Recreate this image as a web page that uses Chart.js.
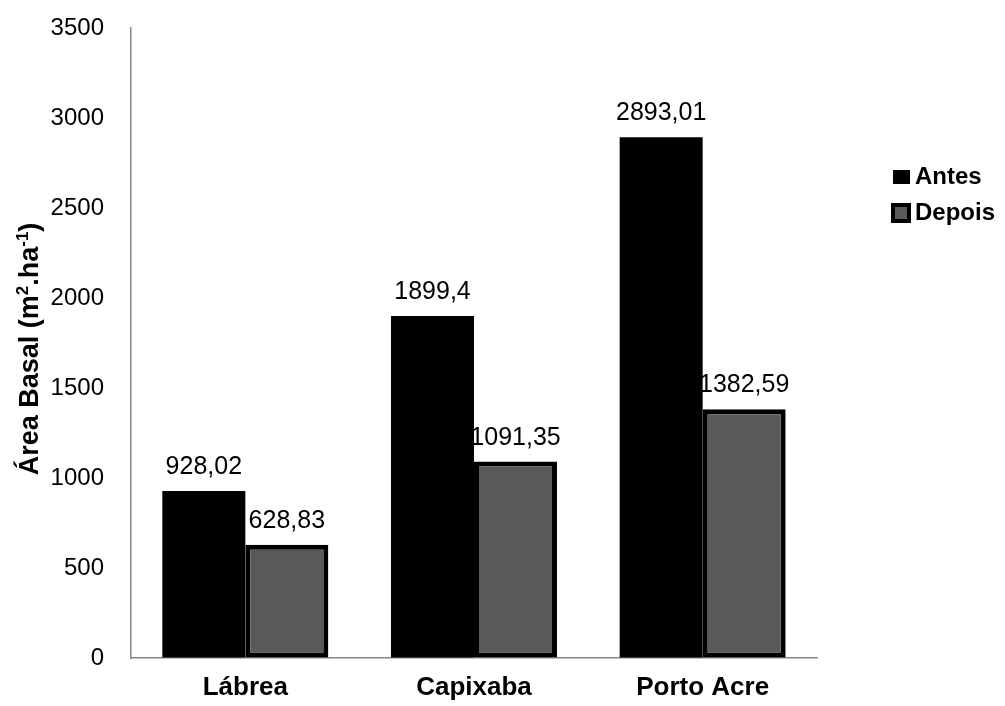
<!DOCTYPE html>
<html lang="pt">
<head>
  <meta charset="UTF-8">
  <title>Área Basal</title>
  <script src="https://cdn.jsdelivr.net/npm/chart.js"></script>
  <style>
    html, body { margin: 0; padding: 0; background: #fff; }
    #wrap { width: 1005px; height: 706px; }
  </style>
</head>
<body>
  <div id="wrap"><canvas id="chart" width="1005" height="706"></canvas></div>

  <script>
    const localidades = ['Lábrea', 'Capixaba', 'Porto Acre'];
    const antes = [928.02, 1899.4, 2893.01];
    const depois = [628.83, 1091.35, 1382.59];
    const yTicks = [0, 500, 1000, 1500, 2000, 2500, 3000, 3500];

    const FONT = '"Liberation Sans", Arial, sans-serif';
    const AXIS = '#868686';

    // valores acima das barras, com vírgula decimal
    const rotulos = {
      id: 'rotulos',
      afterDatasetsDraw(chart) {
        const ctx = chart.ctx;
        ctx.save();
        ctx.font = '25px ' + FONT;
        ctx.fillStyle = '#000';
        ctx.textAlign = 'center';
        ctx.textBaseline = 'alphabetic';
        chart.data.datasets.forEach((ds, i) => {
          chart.getDatasetMeta(i).data.forEach((bar, j) => {
            const txt = String(ds.data[j]).replace('.', ',');
            ctx.fillText(txt, bar.x, bar.y - 17);
          });
        });
        ctx.restore();
      }
    };

    // título do eixo Y com sobrescritos
    const tituloY = {
      id: 'tituloY',
      afterDraw(chart) {
        const ctx = chart.ctx;
        const partes = [
          ['Área Basal (m', 0], ['2', 1], ['.ha', 0], ['-1', 1], [')', 0]
        ];
        const big = 'bold 27px ' + FONT, small = 'bold 17px ' + FONT;
        ctx.save();
        let total = 0;
        partes.forEach(p => { ctx.font = p[1] ? small : big; total += ctx.measureText(p[0]).width; });
        ctx.translate(38, 349);
        ctx.rotate(-Math.PI / 2);
        ctx.fillStyle = '#000';
        ctx.textBaseline = 'alphabetic';
        let x = -total / 2;
        partes.forEach(p => {
          ctx.font = p[1] ? small : big;
          ctx.fillText(p[0], x, p[1] ? -10 : 0);
          x += ctx.measureText(p[0]).width;
        });
        ctx.restore();
      }
    };

    // legenda à direita
    const legenda = {
      id: 'legenda',
      afterDraw(chart) {
        const ctx = chart.ctx;
        const ds = chart.data.datasets;
        ctx.save();
        ctx.fillStyle = ds[0].backgroundColor;
        ctx.fillRect(893, 170, 17, 14);
        ctx.fillStyle = '#000';
        ctx.fillRect(891, 203, 20, 20);
        ctx.fillStyle = ds[1].backgroundColor;
        ctx.fillRect(895, 207, 12, 12);
        ctx.fillStyle = '#000';
        ctx.font = 'bold 24px ' + FONT;
        ctx.textBaseline = 'middle';
        ctx.fillText(ds[0].label, 915, 177);
        ctx.fillText(ds[1].label, 915, 213);
        ctx.restore();
      }
    };

    new Chart(document.getElementById('chart'), {
      type: 'bar',
      data: {
        labels: localidades,
        datasets: [
          {
            label: 'Antes',
            data: antes,
            backgroundColor: '#000000',
            borderWidth: 0
          },
          {
            label: 'Depois',
            data: depois,
            backgroundColor: '#595959',
            borderColor: '#000000',
            borderWidth: 5,
            borderSkipped: false
          }
        ]
      },
      options: {
        responsive: false,
        animation: false,
        layout: { padding: { left: 0, right: 188, top: 28, bottom: 0 } },
        datasets: { bar: { categoryPercentage: 0.726, barPercentage: 1 } },
        plugins: {
          legend: { display: false },
          tooltip: { enabled: false }
        },
        scales: {
          x: {
            grid: { drawOnChartArea: false, drawTicks: false },
            border: { display: true, color: AXIS, width: 1.5 },
            ticks: {
              color: '#000',
              padding: 14,
              font: { family: FONT, size: 26, weight: 'bold' }
            },
            afterFit(scale) { scale.height = 48; }
          },
          y: {
            min: 0,
            max: 3500,
            afterBuildTicks(scale) { scale.ticks = yTicks.map(v => ({ value: v })); },
            grid: { drawOnChartArea: false, drawTicks: false },
            border: { display: true, color: AXIS, width: 1.5 },
            ticks: {
              color: '#000',
              padding: 27,
              font: { family: FONT, size: 24 },
              callback: v => String(v)
            },
            afterFit(scale) {
              scale.width = 131;
              // o espaçamento dos rótulos não deve empurrar a área do gráfico
              scale.paddingTop = 14;
              scale.paddingBottom = 14;
            }
          }
        }
      },
      plugins: [rotulos, tituloY, legenda]
    });
  </script>
</body>
</html>
